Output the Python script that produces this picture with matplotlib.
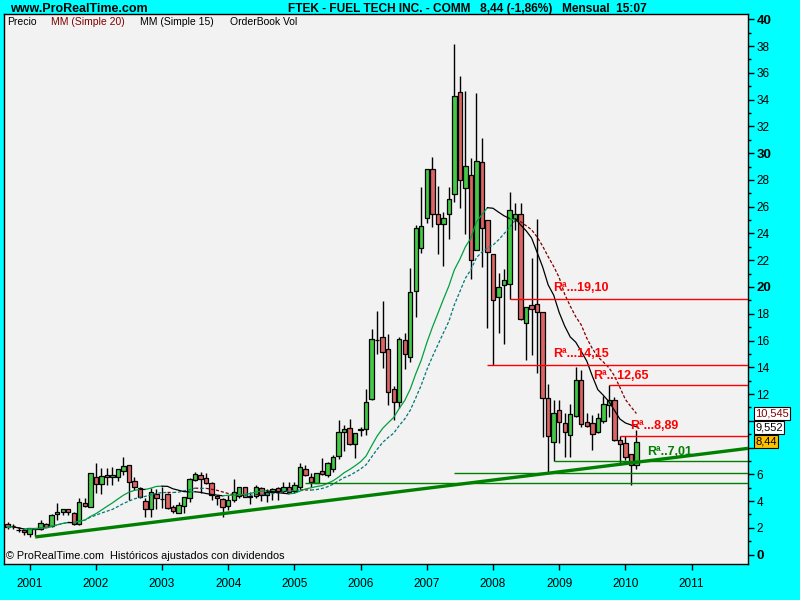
import numpy as np
import pandas as pd
import matplotlib
matplotlib.use("Agg")
import matplotlib.pyplot as plt
from matplotlib.ticker import MultipleLocator, FixedLocator

# ---- monthly OHLC, FTEK, Sep 2000 .. Mar 2010 ----
months = pd.period_range("2000-09", "2010-03", freq="M")

opens = [
    2.29, 2.16, 1.86, 1.84,
    1.54, 1.91, 1.89, 2.28, 2.13, 3.04, 3.16, 3.41, 3.09, 2.28, 3.83, 3.58,
    5.83, 5.25, 5.96, 5.83, 5.78, 6.24, 6.70, 5.48, 4.95, 4.01, 3.40, 4.50,
    4.16, 4.50, 3.53, 3.14, 3.63, 4.20, 5.55, 5.92, 5.70, 5.32, 4.41, 4.13,
    3.65, 4.08, 4.41, 5.02, 4.36, 4.41, 4.95, 4.46, 4.70, 4.95, 4.77, 5.02,
    4.75, 5.07, 6.37, 5.83, 5.38, 6.22, 5.97, 6.37, 7.36, 9.14, 9.50, 8.29,
    9.36, 9.36, 11.62, 16.05, 16.25, 15.35, 12.38, 11.38, 16.05, 14.76, 19.67, 22.89,
    25.13, 28.79, 25.43, 24.68, 25.43, 26.93, 34.54, 27.41, 28.36, 22.80, 29.35, 24.98,
    22.50, 19.28, 20.12, 20.22, 25.05, 25.43, 17.34, 18.63, 18.73, 18.13, 11.68, 8.43,
    10.79, 9.80, 8.91, 10.39, 13.07, 9.93, 9.80, 9.14, 9.99, 11.19, 11.55, 8.60,
    8.31, 7.51, 6.68,
]
highs = [
    2.46, 2.30, 1.96, 1.86,
    2.00, 2.00, 2.58, 2.35, 3.05, 3.83, 3.44, 3.44, 3.15, 4.21, 4.21, 6.08,
    6.82, 6.45, 6.45, 6.52, 6.37, 7.31, 6.70, 5.78, 5.02, 4.24, 4.95, 4.93,
    5.07, 4.58, 3.68, 3.91, 4.33, 5.70, 6.19, 6.19, 6.12, 5.45, 4.46, 4.20,
    4.46, 5.62, 5.07, 5.07, 4.70, 5.20, 5.07, 4.87, 4.95, 5.07, 5.45, 5.45,
    5.45, 6.82, 6.67, 6.07, 6.12, 7.19, 6.95, 7.44, 10.09, 9.70, 10.13, 9.10,
    9.57, 12.35, 16.84, 18.23, 18.93, 16.45, 12.58, 16.25, 16.55, 21.41, 24.63, 27.46,
    28.85, 29.74, 27.54, 25.58, 27.50, 38.18, 35.80, 34.61, 29.65, 34.51, 31.13, 24.98,
    22.50, 21.01, 21.31, 27.07, 26.27, 26.27, 18.53, 22.20, 25.08, 18.13, 12.77, 11.54,
    11.54, 10.55, 11.28, 14.02, 13.77, 10.55, 10.42, 10.55, 11.85, 12.65, 11.78, 8.89,
    8.87, 7.51, 9.30,
]
lows = [
    1.91, 1.91, 1.71, 1.47,
    1.34, 1.36, 1.81, 2.06, 2.10, 2.59, 2.96, 2.95, 2.21, 2.21, 3.58, 3.54,
    4.58, 4.51, 5.20, 5.20, 5.53, 5.93, 4.08, 4.82, 4.21, 2.79, 2.79, 3.44,
    3.45, 3.38, 3.09, 3.09, 3.09, 3.95, 5.50, 4.58, 5.27, 4.08, 3.71, 2.79,
    3.33, 3.95, 4.20, 4.33, 3.78, 4.20, 4.01, 3.95, 4.08, 4.08, 4.58, 4.58,
    4.58, 4.93, 5.88, 5.07, 5.33, 5.93, 5.83, 6.20, 7.12, 7.71, 8.19, 7.25,
    8.90, 8.94, 11.54, 14.96, 13.96, 11.19, 10.06, 10.93, 13.87, 14.36, 17.74, 22.56,
    24.78, 24.49, 22.50, 21.57, 23.59, 26.37, 25.87, 23.99, 20.61, 22.80, 21.51, 16.90,
    14.15, 16.55, 15.75, 19.10, 24.29, 17.54, 14.54, 14.92, 13.57, 8.80, 6.07, 7.01,
    8.31, 7.31, 7.31, 10.29, 9.56, 9.56, 7.81, 9.06, 9.80, 10.25, 8.51, 6.72,
    7.07, 5.20, 6.43,
]
closes = [
    2.04, 2.11, 1.84, 1.67,
    1.97, 1.96, 2.38, 2.08, 2.99, 3.19, 3.41, 3.16, 2.28, 3.93, 3.65, 6.08,
    5.25, 5.88, 5.78, 5.93, 6.37, 6.62, 5.45, 5.02, 4.28, 3.40, 4.65, 4.20,
    4.14, 3.50, 3.29, 3.68, 4.28, 5.62, 5.99, 5.67, 5.32, 4.46, 4.20, 3.53,
    4.08, 4.65, 5.02, 4.33, 4.34, 5.07, 4.46, 4.70, 4.87, 4.75, 5.02, 4.65,
    5.17, 6.52, 5.95, 5.40, 6.07, 6.04, 6.82, 7.27, 9.19, 9.37, 8.29, 9.06,
    9.34, 11.44, 16.11, 16.07, 15.16, 12.18, 11.38, 16.15, 14.96, 19.62, 24.39, 24.58,
    28.79, 25.43, 24.68, 25.13, 26.55, 34.27, 27.96, 29.04, 22.00, 29.45, 24.39, 22.60,
    19.00, 20.02, 20.52, 25.73, 25.43, 17.59, 18.53, 18.33, 18.13, 11.71, 8.90, 10.55,
    9.93, 9.18, 10.49, 13.07, 9.74, 9.64, 8.98, 10.18, 11.23, 11.55, 8.57, 8.29,
    7.31, 6.68, 8.44,
]

# resistance (red) and support (green) levels: value, first month drawn
res_levels = [19.10, 14.15, 12.65, 8.89]
res_start = ["2008-04", "2007-12", "2009-10", "2009-12"]
res_labels = ["Rª...19,10", "Rª...14,15", "Rª...12,65", "Rª...8,89"]
sup_levels = [7.01, 6.08, 5.33]
sup_start = ["2008-12", "2007-06", "2005-03"]
sup_label = "Rª..7,01"

# long-term rising trendline (two anchor points: decimal year, price)
trend_x = [2001 + 1 / 12, 2011.85]
trend_y = [1.32, 7.94]

year_ticks = list(range(2001, 2012))

# -------------------------------------------------------------------------
def dec_year(p):
    p = pd.Period(p, freq="M")
    return p.year + (p.month - 1) / 12

x = np.array([dec_year(p) for p in months])
o = np.array(opens); h = np.array(highs); l = np.array(lows); c = np.array(closes)

ma15 = pd.Series(c).rolling(15, min_periods=1).mean().to_numpy()
ma20 = pd.Series(c).rolling(20, min_periods=1).mean().to_numpy()

NARROW = ["Liberation Sans Narrow", "Liberation Sans", "DejaVu Sans"]
SANS = ["Liberation Sans", "DejaVu Sans"]

fig = plt.figure(figsize=(8, 6), dpi=100, facecolor="#00FFFF")
ax = fig.add_axes([4 / 800, 1 - 564 / 600, 744 / 800, 550 / 600])
ax.set_facecolor("#F2F2F2")
for s in ax.spines.values():
    s.set_color("black")
    s.set_linewidth(1.0)

XMIN, XMAX = 2000.613, 2011.852
ax.set_xlim(XMIN, XMAX)
ax.set_ylim(-0.70, 40.40)

# candles
w = 0.8 / 12
up = c >= o
ax.vlines(x, l, h, color="black", lw=1.0, zorder=3)
body_lo = np.minimum(o, c)
body_h = np.maximum(np.abs(c - o), 0.02)
ax.bar(x[up], body_h[up], bottom=body_lo[up], width=w, color="#45C845",
       edgecolor="black", linewidth=0.9, zorder=4)
ax.bar(x[~up], body_h[~up], bottom=body_lo[~up], width=w, color="#DC6464",
       edgecolor="black", linewidth=0.9, zorder=4)


def draw_ma(xv, yv, up_col, down_col, ls, lw):
    d = np.diff(yv)
    rising = d >= 0
    start = 0
    for i in range(1, len(d) + 1):
        if i == len(d) or rising[i] != rising[start]:
            seg = slice(start, i + 1)
            ax.plot(xv[seg], yv[seg], color=up_col if rising[start] else down_col,
                    ls=ls, lw=lw, zorder=5)
            start = i


draw_ma(x, ma20, "#007878", "#800000", (0, (2.5, 1.5)), 0.9)
draw_ma(x, ma15, "#00A040", "#000000", "-", 0.9)

# trendline, extended to the right edge
slope = (trend_y[1] - trend_y[0]) / (trend_x[1] - trend_x[0])
ax.plot([trend_x[0], XMAX], [trend_y[0], trend_y[0] + slope * (XMAX - trend_x[0])],
        color="#008000", lw=2.4, zorder=6, solid_capstyle="butt")

for lev, st in zip(res_levels, res_start):
    ax.hlines(lev, dec_year(st), XMAX, color="#FF0000", lw=1.0, zorder=6)
for lev, st in zip(sup_levels, sup_start):
    ax.hlines(lev, dec_year(st), XMAX, color="#008000", lw=1.0, zorder=6)

lab_pos = [(2008.906, 19.93), (2008.906, 15.02), (2009.51, 13.33), (2010.07, 9.63)]
for (lx, ly), txt in zip(lab_pos, res_labels):
    ax.text(lx, ly, txt, color="#FF0000", fontsize=9, fontweight="bold",
            family=SANS, va="center", ha="left", zorder=7)
ax.text(2010.33, 7.69, sup_label, color="#008000", fontsize=9, fontweight="bold",
        family=SANS, va="center", ha="left", zorder=7)

# axes ticks (8 and 10 sit behind the value tags)
ax.yaxis.tick_right()
ax.yaxis.set_minor_locator(MultipleLocator(1))
ax.tick_params(axis="y", which="major", length=4, width=1, pad=2, labelsize=8.5)
ax.tick_params(axis="y", which="minor", length=2.5, width=1)
yt = list(range(0, 41, 2))
ax.set_yticks(yt)
ax.set_yticklabels(["" if v in (8, 10) else str(v) for v in yt])
for t in ax.get_yticklabels():
    t.set_family(SANS)
    if t.get_text() in ("0", "20", "30", "40"):
        t.set_fontweight("bold")
        t.set_fontsize(9.5)

ax.xaxis.set_major_locator(FixedLocator(year_ticks))
ax.set_xticklabels([str(y) for y in year_ticks])
ax.tick_params(axis="x", which="major", length=4, width=1, pad=6, labelsize=8.5)
for t in ax.get_xticklabels():
    t.set_family(NARROW)

# legend line and footer inside the plot
ly = 1 - 8 / 550
ax.text(3 / 744, ly, "Precio", transform=ax.transAxes, fontsize=7.5,
        family=SANS, va="center", ha="left", color="black")
ax.text(47 / 744, ly, "MM (Simple 20)", transform=ax.transAxes, fontsize=7.5,
        family=SANS, va="center", ha="left", color="#800000")
ax.text(136 / 744, ly, "MM (Simple 15)", transform=ax.transAxes, fontsize=7.5,
        family=SANS, va="center", ha="left", color="black")
ax.text(226 / 744, ly, "OrderBook Vol", transform=ax.transAxes, fontsize=7.5,
        family=SANS, va="center", ha="left", color="black")
ax.text(2 / 744, 8 / 550, "© ProRealTime.com  Históricos ajustados con dividendos",
        transform=ax.transAxes, fontsize=7.8, family=SANS, va="center", ha="left")

# header
fig.text(10 / 800, 1 - 9 / 600, "www.ProRealTime.com", fontsize=9, fontweight="bold",
         family=NARROW, va="center", ha="left")
fig.text(288 / 800, 1 - 9 / 600,
         "FTEK - FUEL TECH INC. - COMM   8,44 (-1,86%)   Mensual  15:07",
         fontsize=8.6, fontweight="bold", family=NARROW, va="center", ha="left")

# last values of the averages and price on the price scale
def fmt(v, nd):
    return f"{v + 1e-9:.{nd}f}".replace(".", ",")

tags = [(fmt(ma20[-1], 3), "#800000", "white", 413.5),
        (fmt(ma15[-1], 3), "black", "white", 427.5),
        (fmt(c[-1], 2), "black", "#FFC000", 441.5)]
for txt, fc, bg, ypx in tags:
    fig.text(755 / 800, 1 - ypx / 600, txt, fontsize=8, family=SANS, color=fc,
             va="center", ha="left", zorder=10,
             bbox=dict(boxstyle="square,pad=0.1", fc=bg, ec="black", lw=0.8))

fig.savefig("out.png", dpi=100, facecolor=fig.get_facecolor())
